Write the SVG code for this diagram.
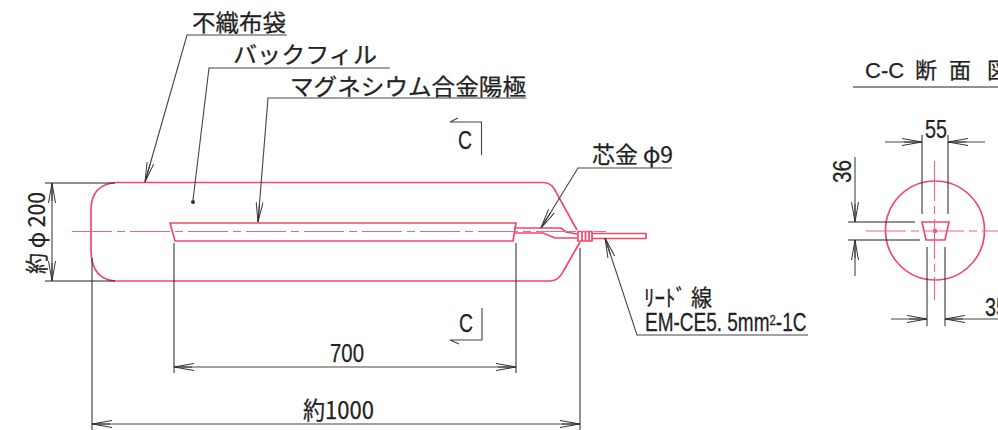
<svg xmlns="http://www.w3.org/2000/svg" width="998" height="430" viewBox="0 0 998 430">
<style>
text{font-family:"Noto Sans CJK JP","Liberation Sans",sans-serif;fill:#222;font-size:23px;stroke:#222;stroke-width:.25}
.d{font-family:"Liberation Sans","Noto Sans CJK JP",sans-serif;font-size:26px}
.k{fill:none;stroke:#222;stroke-width:1}
.t{fill:none;stroke:#444;stroke-width:1.1}
.r{fill:none;stroke:#f2476a;stroke-width:1.7}
.c{fill:none;stroke:#f0648c;stroke-width:1.1;stroke-dasharray:40 5 8 5}
</style>
<defs>
<marker id="a" viewBox="0 0 20 8" refX="20" refY="4" markerWidth="20" markerHeight="8" markerUnits="userSpaceOnUse" orient="auto-start-reverse"><path d="M0 0.500L20 4L0 7.500" fill="none" stroke="#333" stroke-width="1"/><path d="M2 4H20" stroke="#333" stroke-width="1"/></marker>
</defs>
<rect width="998" height="430" fill="#fff"/>
<g id="bag"><path class="r" d="M543 182.500H117Q91 184 91 210V252Q92 279 115 281H550Q559 281 564 270L580 242M543 182.500Q552 182 557 194L577 230"/></g>
<g id="anode"><path class="r" d="M170 223H516L513 241H175Z"/></g>
<g id="core"><path class="r" d="M514 228H561L566 232L577 234M514 233H543L555 238H577M578 231.500H592V241H578ZM582 232V240.500M585.500 232V240.500M589 232V240.500M592 233.500H646V238.500H592"/></g>
<g id="section"><circle class="r" cx="935" cy="230.500" r="49.500"/><path class="r" d="M922 222H949L945 240H926Z"/><circle cx="935" cy="231" r="2.200" fill="#f2476a"/></g>
<g id="centerlines"><path class="c" d="M72 231.500H606"/><path class="c" d="M866 231H998"/><path class="c" d="M934.500 161V300"/></g>
<g id="connectors">
<path class="t" d="M287 35H187L145 182" marker-end="url(#a)"/>
<path class="t" d="M390 68H209L193 200"/><circle cx="193" cy="202" r="2" fill="#333"/>
<path class="t" d="M526 98H268L258 222" marker-end="url(#a)"/>
<path class="t" d="M672 168H578L541 228" marker-end="url(#a)"/>
<path class="t" d="M808 335H637L605 238" marker-end="url(#a)"/>
<path class="k" d="M45 183H115M45 281H115M92 258V430M580 248V430M174 243V373M516 243V373"/>
<path class="t" d="M52 183V281" marker-start="url(#a)" marker-end="url(#a)"/>
<path class="t" d="M174 367H516" marker-start="url(#a)" marker-end="url(#a)"/>
<path class="t" d="M92 424H580" marker-start="url(#a)" marker-end="url(#a)"/>
<path class="k" d="M922 135V214M948 135V214M848 222H915M848 240H920M927 247V326M945 247V326"/>
<path class="t" d="M885 142H922" marker-end="url(#a)"/><path class="t" d="M985 142H948" marker-end="url(#a)"/>
<path class="t" d="M855 157V222" marker-end="url(#a)"/><path class="t" d="M855 276V240" marker-end="url(#a)"/>
<path class="t" d="M891 319H927" marker-end="url(#a)"/><path class="t" d="M998 319H945" marker-end="url(#a)"/>
<path class="k" d="M853 87H998"/>
<path class="t" d="M481.500 155V122H450L458 118M482 308V340H450L459 344"/>
</g>
<g id="labels">
<text x="192" y="31" textLength="94" lengthAdjust="spacingAndGlyphs">不織布袋</text>
<text x="233" y="63" textLength="144" lengthAdjust="spacingAndGlyphs">バックフィル</text>
<text x="290" y="95" textLength="236" lengthAdjust="spacingAndGlyphs">マグネシウム合金陽極</text>
<text x="592" y="163" textLength="81" lengthAdjust="spacingAndGlyphs">芯金 φ9</text>
<text x="644" y="306" textLength="68" lengthAdjust="spacingAndGlyphs">ﾘｰﾄﾞ 線</text>
<text class="d" transform="translate(645 331) scale(.76 1)" style="font-size:25px">EM-CE5. 5mm<tspan dy="-6" style="font-size:15px">2</tspan><tspan dy="6">-1C</tspan></text>
<text class="d" x="330" y="362" textLength="34" lengthAdjust="spacingAndGlyphs">700</text>
<text x="303" y="419" textLength="71" lengthAdjust="spacingAndGlyphs" style="font-size:24px">約1000</text>
<text transform="translate(45 274) rotate(-90)" textLength="82" lengthAdjust="spacingAndGlyphs" style="font-size:23px">約 φ 200</text>
<text class="d" x="458" y="149" textLength="14" lengthAdjust="spacingAndGlyphs">C</text>
<text class="d" x="459" y="332" textLength="14" lengthAdjust="spacingAndGlyphs">C</text>
<text x="865" y="78" style="font-size:22px"><tspan class="d" style="font-size:22px">C-C</tspan><tspan x="915">断</tspan><tspan x="949">面</tspan><tspan x="987">図</tspan></text>
<text class="d" x="925" y="138" textLength="22" lengthAdjust="spacingAndGlyphs">55</text>
<text class="d" transform="translate(851 183) rotate(-90)" textLength="23" lengthAdjust="spacingAndGlyphs">36</text>
<text class="d" x="985" y="316" textLength="22" lengthAdjust="spacingAndGlyphs">35</text>
</g>
</svg>
